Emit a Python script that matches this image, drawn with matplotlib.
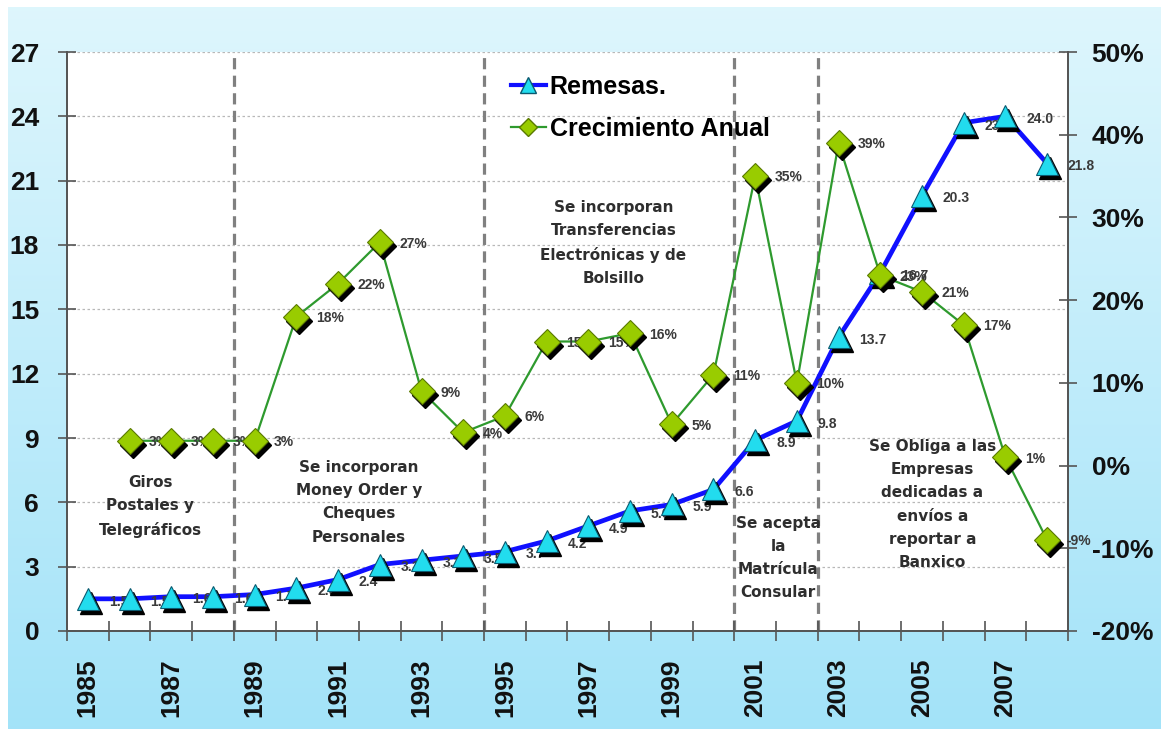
import numpy as np
import matplotlib
matplotlib.use("Agg")
import matplotlib.pyplot as plt
import matplotlib.transforms as mtransforms
from matplotlib.lines import Line2D

# data
years = list(range(1985, 2009))
remesas = [1.5, 1.5, 1.6, 1.6, 1.7, 2.0, 2.4, 3.1, 3.3, 3.5, 3.7, 4.2,
           4.9, 5.6, 5.9, 6.6, 8.9, 9.8, 13.7, 16.7, 20.3, 23.7, 24.0, 21.8]
growth_years = list(range(1986, 2009))
growth = [3, 3, 3, 3, 18, 22, 27, 9, 4, 6, 15, 15, 16, 5, 11, 35, 10, 39,
          23, 21, 17, 1, -9]
year_labels = [str(y) for y in range(1985, 2009, 2)]
breaks = [1988.5, 1994.5, 2000.5, 2002.5]

notes = [
    (1986.5, 5.8, "Giros\nPostales y\nTelegráficos"),
    (1991.5, 6.0, "Se incorporan\nMoney Order y\nCheques\nPersonales"),
    (1997.6, 18.1, "Se incorporan\nTransferencias\nElectrónicas y de\nBolsillo"),
    (2001.55, 3.4, "Se acepta\nla\nMatrícula\nConsular"),
    (2005.25, 5.9, "Se Obliga a las\nEmpresas\ndedicadas a\nenvíos a\nreportar a\nBanxico"),
]

W, H = 1161, 729
fig = plt.figure(figsize=(W / 100, H / 100), dpi=100)
fig.patch.set_facecolor("white")

# light blue gradient backdrop
bg = fig.add_axes([8 / W, 0, 1 - 8 / W, 1 - 7 / H], zorder=-1)
top = np.array([0.87, 0.965, 0.99])
bot = np.array([0.64, 0.89, 0.975])
t = np.linspace(0, 1, 256)[:, None]
grad = (top * (1 - t) + bot * t)[:, None, :]
bg.imshow(grad, aspect="auto", extent=[0, 1, 0, 1])
bg.axis("off")

ax = fig.add_axes([67 / W, (H - 631) / H, 1001 / W, 579 / H], zorder=1)
ax.set_facecolor("white")
ax2 = ax.twinx()
ax2.set_zorder(2)
ax2.patch.set_visible(False)

ax.set_xlim(1984.5, 2008.5)
ax.set_ylim(0, 27)
ax2.set_ylim(-20, 50)

# gridlines and event separators
for v in range(3, 28, 3):
    ax.axhline(v, color="#b8b8b8", lw=0.9, ls=(0, (2, 2)), zorder=0)
for b in breaks:
    ax.axvline(b, color="#808080", lw=2.3, ls=(0, (3.5, 2)), zorder=1)

for x, y, s in notes:
    ax.text(x, y, s, ha="center", va="center", multialignment="center",
            fontsize=11, fontweight="bold", color="#2e2e2e", linespacing=1.68,
            family="DejaVu Sans", zorder=2)

# Remesas series
sh1 = mtransforms.offset_copy(ax.transData, fig=fig, x=3, y=-4, units="dots")
ax.plot(years, remesas, color="#1010ff", lw=3.4, zorder=3)
for x, v in zip(years, remesas):
    ax.annotate(f"{v:.1f}", (x, v), xytext=(15, -2), textcoords="offset points",
                ha="left", va="center", fontsize=10, fontweight="bold",
                family="Liberation Sans", color="#3a3a3a", zorder=3)
ax.plot(years, remesas, ls="none", marker="^", ms=16, color="black",
        transform=sh1, zorder=4)
ax.plot(years, remesas, ls="none", marker="^", ms=16, mfc="#22dcee",
        mec="#0a5a70", mew=0.8, zorder=5)

# growth series
sh2 = mtransforms.offset_copy(ax2.transData, fig=fig, x=3, y=-4, units="dots")
ax2.plot(growth_years, growth, color="#2e9a2e", lw=1.6, zorder=3)
for x, v in zip(growth_years, growth):
    ax2.annotate(f"{v}%", (x, v), xytext=(14, -1), textcoords="offset points",
                 ha="left", va="center", fontsize=10, fontweight="bold",
                 family="Liberation Sans", color="#3a3a3a", zorder=3)
ax2.plot(growth_years, growth, ls="none", marker="D", ms=13, color="black",
         transform=sh2, zorder=4)
ax2.plot(growth_years, growth, ls="none", marker="D", ms=13, mfc="#99cc00",
         mec="#5a7a00", mew=0.8, zorder=5)

# axes styling
for a in (ax, ax2):
    a.spines["top"].set_visible(False)
    for s in ("left", "right", "bottom"):
        a.spines[s].set_color("#555555")
        a.spines[s].set_linewidth(1.3)

ax.set_yticks(range(0, 28, 3))
ax.tick_params(axis="y", direction="inout", length=13, width=1.2,
               color="#555555", pad=13.5)
ax2.set_yticks(range(-20, 51, 10))
ax2.set_yticklabels([f"{v}%" for v in range(-20, 51, 10)])
ax2.tick_params(axis="y", direction="inout", length=13, width=1.2,
                color="#555555", pad=10.5)

ax.set_xticks(np.arange(1984.5, 2009, 1))
ax.set_xticklabels([])
ax.tick_params(axis="x", which="major", direction="inout", length=14,
               width=1.2, color="#555555")
ax.set_xticks(range(1985, 2009, 2), minor=True)
ax.set_xticklabels(year_labels, minor=True, rotation=90)
ax.tick_params(axis="x", which="minor", length=0, pad=20)

for lab in ax.get_yticklabels() + ax2.get_yticklabels() + ax.get_xticklabels(minor=True):
    lab.set_fontsize(19)
    lab.set_fontweight("bold")
    lab.set_family("Liberation Sans")
    lab.set_color("#111111")

handles = [
    Line2D([], [], color="#1010ff", lw=3, marker="^", ms=11, mfc="#22dcee",
           mec="#0a5a70"),
    Line2D([], [], color="#2e9a2e", lw=1.6, marker="D", ms=9, mfc="#99cc00",
           mec="#5a7a00"),
]
leg = ax2.legend(handles, ["Remesas.", "Crecimiento Anual"], loc="upper left",
                 bbox_to_anchor=(0.421, 1.0), frameon=False, handlelength=1.4,
                 handletextpad=0.15, labelspacing=0.72,
                 prop={"family": "Liberation Sans", "weight": "bold", "size": 18})

fig.savefig("out.png", dpi=100)
